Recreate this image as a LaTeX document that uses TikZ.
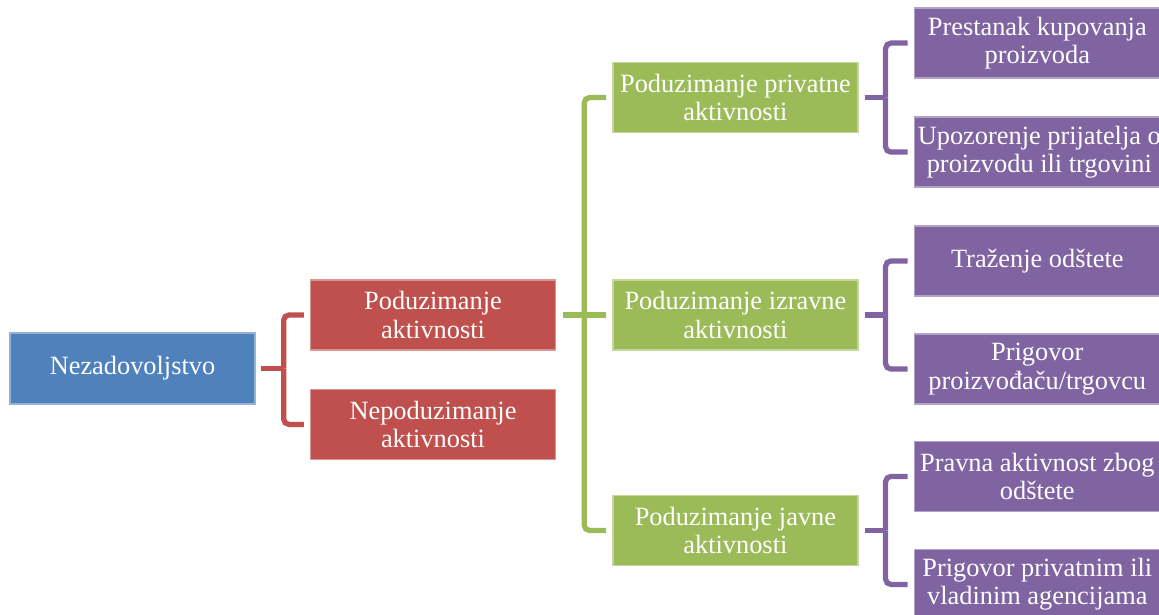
\documentclass[tikz,border=0pt]{standalone}
\usepackage{fontspec}
\setmainfont{Liberation Serif}
\newfontfamily\boxfont{Liberation Serif}
\usetikzlibrary{positioning}
\definecolor{nezblue}{HTML}{4F81BD}
\definecolor{aktred}{HTML}{C0504D}
\definecolor{vrstgreen}{HTML}{9BBB59}
\definecolor{ishodpurple}{HTML}{8064A2}
\begin{document}
\begin{tikzpicture}[node distance={5.6mm},
  box/.style = {minimum width=2.45cm, minimum height=0.70cm, inner sep=1pt, align=center, text=white, font=\boxfont\fontsize{7.5}{8.1}\selectfont, line width=0.4pt},
  blue/.style = {box, fill=nezblue, draw=nezblue!60!white, minimum height=0.71cm},
  red/.style = {box, fill=aktred, draw=aktred!60!white},
  green/.style = {box, fill=vrstgreen, draw=vrstgreen!60!white},
  purple/.style = {box, fill=ishodpurple, draw=ishodpurple!60!white, minimum width=2.46cm},
  link/.style = {line width=1.5pt, rounded corners=1.5pt}]
\useasboundingbox (0,0) rectangle (11.59,-6.15);
\node[blue] (nez) at (1.325,-3.685) {Nezadovoljstvo};
\node[red] (akt) at (4.33,-3.15) {Poduzimanje\\aktivnosti};
\node[red] (neakt) [below=3.8mm of akt] {Nepoduzimanje\\aktivnosti};
\node[green] (izr) [right=of akt] {Poduzimanje izravne\\aktivnosti};
\node[green] (priv) [above=14.6mm of izr] {Poduzimanje privatne\\aktivnosti};
\node[green] (jav) [below=14.4mm of izr] {Poduzimanje javne\\aktivnosti};
\node[purple] (kup) [right=5.5mm of priv, yshift=5.45mm] {Prestanak kupovanja\\proizvoda};
\node[purple] (upoz) [right=5.5mm of priv, yshift=-5.45mm] {Upozorenje prijatelja o\\proizvodu ili trgovini};
\node[purple] (odst) [right=5.5mm of izr, yshift=5.4mm] {Traženje odštete};
\node[purple] (prig) [right=5.5mm of izr, yshift=-5.4mm] {Prigovor\\proizvođaču/trgovcu};
\node[purple] (pravna) [right=5.5mm of jav, yshift=5.4mm] {Pravna aktivnost zbog\\odštete};
\node[purple] (agenc) [right=5.5mm of jav, yshift=-5.4mm] {Prigovor privatnim ili\\vladinim agencijama};
\draw[link, aktred] ([xshift=0.5mm]nez.east) -- ++(2.3mm,0) coordinate (j0);
\draw[link, aktred] (j0) |- ([xshift=-0.6mm]akt.west);
\draw[link, aktred] (j0) |- ([xshift=-0.6mm]neakt.west);
\draw[link, vrstgreen] ([xshift=0.7mm]akt.east) -- ++(2.1mm,0) coordinate (j1);
\draw[link, vrstgreen] (j1) |- ([xshift=-0.6mm]priv.west);
\draw[link, vrstgreen] (j1) -- ([xshift=-0.6mm]izr.west);
\draw[link, vrstgreen] (j1) |- ([xshift=-0.6mm]jav.west);
\draw[link, ishodpurple] ([xshift=0.6mm]priv.east) -- ++(2.1mm,0) coordinate (j2);
\draw[link, ishodpurple] (j2) |- ([xshift=-0.6mm]kup.west);
\draw[link, ishodpurple] (j2) |- ([xshift=-0.6mm]upoz.west);
\draw[link, ishodpurple] ([xshift=0.6mm]izr.east) -- ++(2.1mm,0) coordinate (j3);
\draw[link, ishodpurple] (j3) |- ([xshift=-0.6mm]odst.west);
\draw[link, ishodpurple] (j3) |- ([xshift=-0.6mm]prig.west);
\draw[link, ishodpurple] ([xshift=0.6mm]jav.east) -- ++(2.1mm,0) coordinate (j4);
\draw[link, ishodpurple] (j4) |- ([xshift=-0.6mm]pravna.west);
\draw[link, ishodpurple] (j4) |- ([xshift=-0.6mm]agenc.west);
\end{tikzpicture}
\end{document}
